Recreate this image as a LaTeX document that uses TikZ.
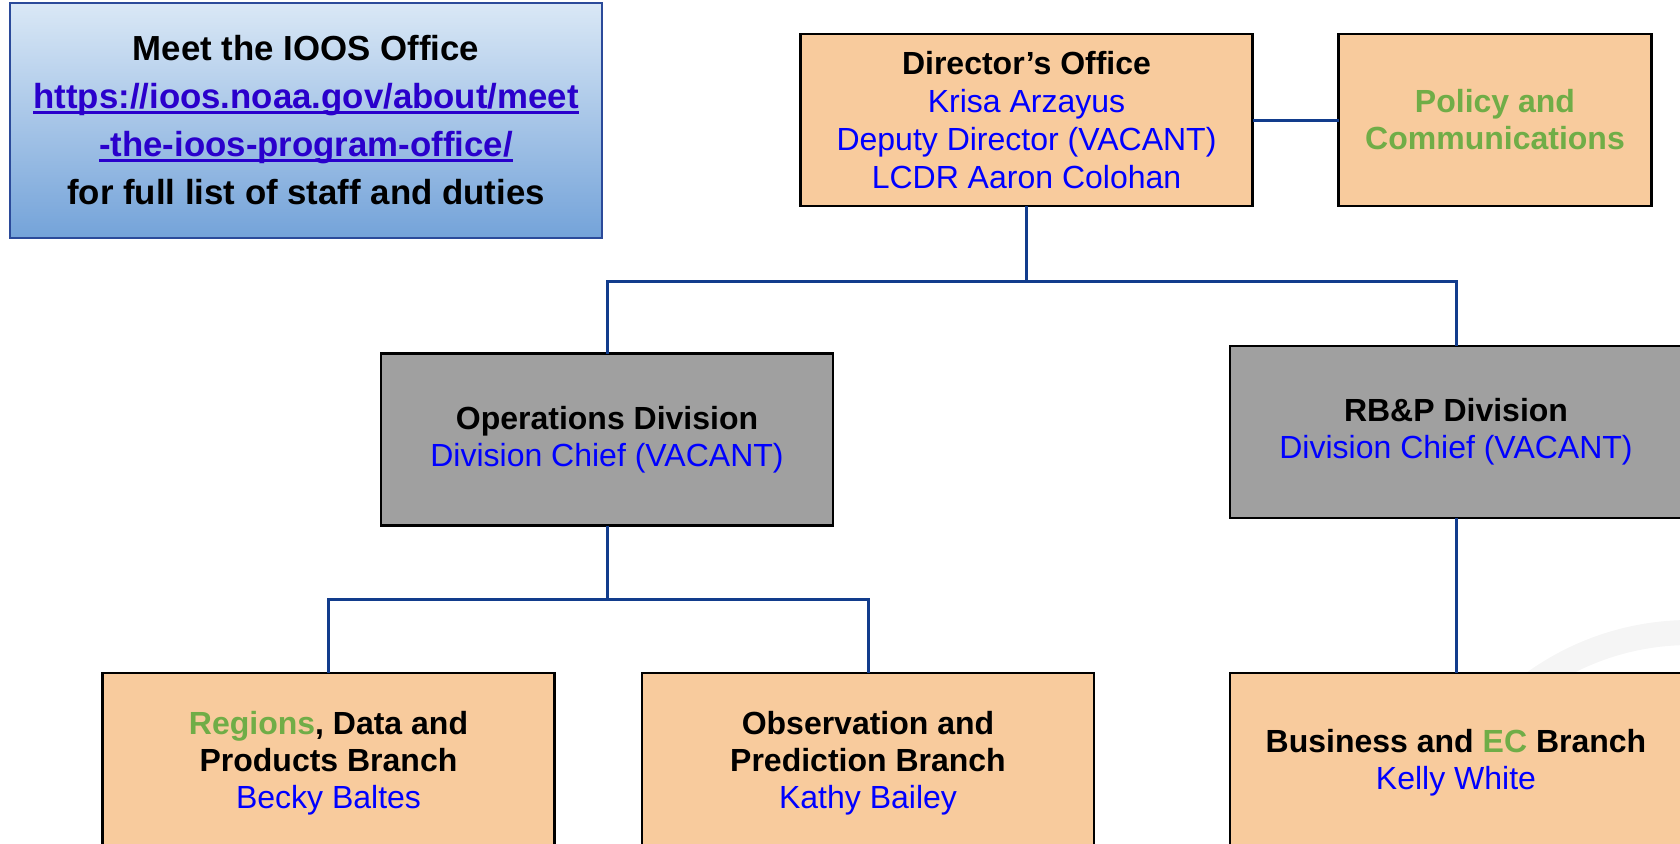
\documentclass[tikz,border=0pt]{standalone}
\usepackage{fontspec}
\setmainfont{Liberation Sans}
\definecolor{peach}{HTML}{F8CB9D}
\definecolor{slate}{HTML}{A0A0A0}
\definecolor{leaf}{HTML}{70AD47}
\definecolor{wire}{HTML}{123C8C}
\definecolor{link}{HTML}{2A00CC}
\definecolor{skytop}{HTML}{DAE8F6}
\definecolor{skybot}{HTML}{74A3D9}
\definecolor{skyline}{HTML}{2B4A9A}
\newcommand{\who}[1]{{\color{blue}\mdseries #1}}
\newcommand{\hl}[1]{{\color{leaf}#1}}
\newcommand{\linkline}[1]{\leavevmode{\color{link}\setbox0\hbox{#1}\rlap{\vrule height -1.4pt depth 2.7pt width \wd0}\box0}}
\tikzset{
	unit/.style={draw=black, line width=1.2pt, inner sep=0pt, outer sep=0pt, align=center,
		minimum width=226pt, minimum height=86pt, font=\fontsize{16}{18.5}\selectfont\bfseries},
	office/.style={unit, fill=peach},
	branch/.style={office, minimum height=90pt},
	division/.style={unit, fill=slate},
	conn/.style={draw=wire, line width=1.5pt},
}

\begin{document}
\begin{tikzpicture}[x=0.5pt, y=-0.5pt]
		\useasboundingbox (0, 0) rectangle (1680, 843);
		\clip (0, 0) rectangle (1680, 843);
		%%%%% START %%%%%
		
		\draw[line width=12.5pt, color=black!4] (1690, 900) circle (267.5);
		
		\node[draw=skyline, line width=1pt, top color=skytop, bottom color=skybot, align=center,
			minimum width=296pt, minimum height=117.5pt, inner sep=0pt,
			font=\fontsize{17.4}{24}\selectfont\bfseries] (meet) at (306, 120)
			{Meet the IOOS Office\\ \linkline{https://ioos.noaa.gov/about/meet}\\
			\linkline{-the-ioos-program-office/}\\ for full list of staff and duties};
		
		\node[office, font=\fontsize{16}{19}\selectfont\bfseries] (dir) at (1026.5, 120)
			{Director’s Office\\ \who{Krisa Arzayus}\\ \who{Deputy Director (VACANT)}\\ \who{LCDR Aaron Colohan}};
		\node[office, minimum width=156.5pt] (policy) at (1495, 120) {\hl{Policy and}\\ \hl{Communications}};
		
		\node[division] (ops) at (607, 439.5) {Operations Division\\ \who{Division Chief (VACANT)}};
		\node[division] (rbp) at (1456, 432) {RB\&P Division\\ \who{Division Chief (VACANT)}};
		
		\node[branch] (rdp) at (328.5, 763) {\hl{Regions}, Data and\\ Products Branch\\ \who{Becky Baltes}};
		\node[branch] (obs) at (868, 763) {Observation and\\ Prediction Branch\\ \who{Kathy Bailey}};
		\node[branch] (bec) at (1456, 763) {Business and \hl{EC} Branch\\ \who{Kelly White}};
		
		\coordinate (topbar) at (1026.5, 281);
		\coordinate (opsbar) at (607, 599);
		
		\draw[conn] (dir.east) -- (policy.west);
		\draw[conn] (dir.south) -- (topbar);
		\draw[conn] (ops.north) |- (topbar) -| (rbp.north);
		\draw[conn] (ops.south) -- (opsbar);
		\draw[conn] (rdp.north) |- (opsbar) -| (obs.north);
		\draw[conn] (rbp.south) -- (bec.north);
		
		%%%%% END %%%%%
\end{tikzpicture}
\end{document}
